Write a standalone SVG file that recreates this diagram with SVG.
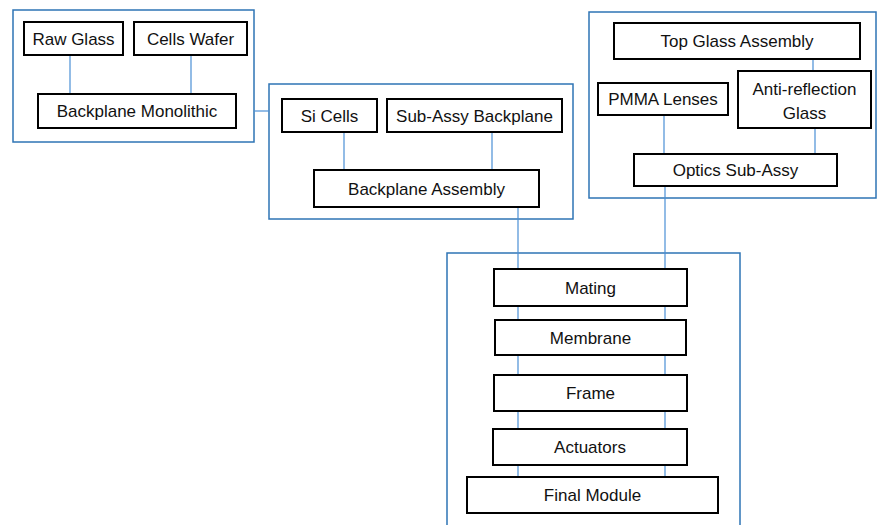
<svg xmlns="http://www.w3.org/2000/svg" width="877" height="525" viewBox="0 0 877 525">
<style>
.grp{fill:none;stroke:#2E74B5;stroke-width:1.5}
.box{fill:#fff;stroke:#000;stroke-width:2}
.con{fill:none;stroke:#4A8FD6;stroke-width:1.2}
text{font-family:"Liberation Sans","Open Sans",Arial,sans-serif;font-size:17px;fill:#111;text-anchor:middle}
</style>
<rect width="877" height="525" fill="#fff"/>
<g id="groups">
<rect class="grp" x="13" y="10" width="241" height="132"/>
<rect class="grp" x="269" y="84" width="304" height="135"/>
<rect class="grp" x="589" y="12" width="287" height="186"/>
<rect class="grp" x="447" y="253" width="293" height="280"/>
</g>
<g id="connectors">
<line class="con" x1="70" y1="55" x2="70" y2="94"/>
<line class="con" x1="191" y1="55" x2="191" y2="94"/>
<line class="con" x1="254" y1="111" x2="269" y2="111"/>
<line class="con" x1="344" y1="132" x2="344" y2="170"/>
<line class="con" x1="492" y1="132" x2="492" y2="170"/>
<line class="con" x1="664" y1="115" x2="664" y2="154"/>
<line class="con" x1="815" y1="128" x2="815" y2="154"/>
<line class="con" x1="813" y1="59" x2="813" y2="71"/>
<line class="con" x1="518" y1="207" x2="518" y2="477"/>
<line class="con" x1="665" y1="186" x2="665" y2="477"/>
</g>
<g id="raw-glass"><rect class="box" x="24" y="22" width="99" height="33"/><text x="73.5" y="45">Raw Glass</text></g>
<g id="cells-wafer"><rect class="box" x="134" y="22" width="113" height="33"/><text x="190.5" y="45">Cells Wafer</text></g>
<g id="backplane-monolithic"><rect class="box" x="38" y="94" width="198" height="34"/><text x="137" y="117">Backplane Monolithic</text></g>
<g id="si-cells"><rect class="box" x="282" y="99" width="95" height="33"/><text x="329.5" y="122">Si Cells</text></g>
<g id="sub-assy-backplane"><rect class="box" x="387" y="99" width="175" height="33"/><text x="474.5" y="122">Sub-Assy Backplane</text></g>
<g id="backplane-assembly"><rect class="box" x="314" y="170" width="225" height="37"/><text x="426.5" y="195">Backplane Assembly</text></g>
<g id="top-glass-assembly"><rect class="box" x="614" y="23" width="246" height="36"/><text x="737" y="47">Top Glass Assembly</text></g>
<g id="pmma-lenses"><rect class="box" x="598" y="83" width="130" height="32"/><text x="663" y="105">PMMA Lenses</text></g>
<g id="anti-reflection-glass"><rect class="box" x="738" y="71" width="133" height="57"/><text x="804.5" y="95">Anti-reflection</text><text x="804.5" y="119">Glass</text></g>
<g id="optics-sub-assy"><rect class="box" x="634" y="154" width="203" height="32"/><text x="735.5" y="176">Optics Sub-Assy</text></g>
<g id="mating"><rect class="box" x="494" y="269" width="193" height="37"/><text x="590.5" y="294">Mating</text></g>
<g id="membrane"><rect class="box" x="495" y="320" width="191" height="35"/><text x="590.5" y="344">Membrane</text></g>
<g id="frame"><rect class="box" x="494" y="375" width="193" height="36"/><text x="590.5" y="399">Frame</text></g>
<g id="actuators"><rect class="box" x="493" y="429" width="194" height="36"/><text x="590" y="453">Actuators</text></g>
<g id="final-module"><rect class="box" x="467" y="477" width="251" height="36"/><text x="592.5" y="501">Final Module</text></g>
</svg>
